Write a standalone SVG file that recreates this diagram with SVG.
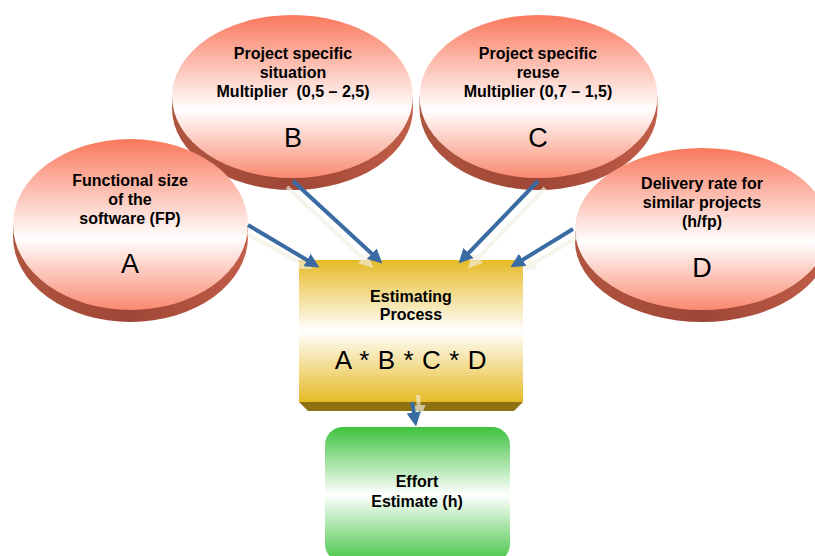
<svg xmlns="http://www.w3.org/2000/svg" width="815" height="556" viewBox="0 0 815 556">
<defs>
<linearGradient id="face" x1="0" y1="0" x2="0" y2="1">
<stop offset="0" stop-color="#F9785C"/>
<stop offset="0.58" stop-color="#FFFFFF"/>
<stop offset="1" stop-color="#F98A70"/>
</linearGradient>
<linearGradient id="rim" x1="0" y1="0" x2="1" y2="0">
<stop offset="0" stop-color="#B0553F"/>
<stop offset="0.5" stop-color="#9E4636"/>
<stop offset="1" stop-color="#C25E48"/>
</linearGradient>
<linearGradient id="gold" x1="0" y1="0" x2="0" y2="1">
<stop offset="0" stop-color="#E6BA26"/>
<stop offset="0.5" stop-color="#FFFFFF"/>
<stop offset="1" stop-color="#E6BA26"/>
</linearGradient>
<linearGradient id="green" x1="0" y1="0" x2="0" y2="1">
<stop offset="0" stop-color="#3EC23E"/>
<stop offset="0.5" stop-color="#FFFFFF"/>
<stop offset="1" stop-color="#46C646"/>
</linearGradient>
<marker id="ah" viewBox="0 0 10 10" refX="4" refY="5" markerWidth="3.6" markerHeight="3.6" orient="auto">
<path d="M0,0 L10,5 L0,10 Z" fill="#3A6BA3"/>
</marker>
<marker id="ahf" viewBox="0 0 10 10" refX="4" refY="5" markerWidth="3.6" markerHeight="3.6" orient="auto">
<path d="M0,0 L10,5 L0,10 Z" fill="#F2F0E2"/>
</marker>
</defs>
<style>
.face{fill:url(#face)}
.rim{fill:url(#rim)}
.t{font-family:"Liberation Sans",Arial,sans-serif;font-weight:bold;font-size:16px;fill:#000;text-anchor:middle}
.L{font-family:"Liberation Sans",Arial,sans-serif;font-size:27px;fill:#000;text-anchor:middle}
.c{stroke:#3A6BA3;stroke-width:4;fill:none;marker-end:url(#ah)}
.f{stroke:#F2F0E2;stroke-width:4;fill:none;opacity:0.65;marker-end:url(#ahf)}
</style>

<g id="nodeB">
<path class="rim" d="M172,96.5 L172,108.5 A120.5,81.5 0 0 0 413,108.5 L413,96.5 Z"/>
<ellipse class="face" cx="292.5" cy="96.5" rx="120.5" ry="81.5"/>
<text class="t" x="293" y="59">Project specific</text>
<text class="t" x="293" y="78">situation</text>
<text class="t" x="293" y="97" xml:space="preserve">Multiplier  (0,5 – 2,5)</text>
<text class="L" x="293" y="147">B</text>
</g>

<g id="nodeC">
<path class="rim" d="M419.5,96.5 L419.5,108.5 A119,81.5 0 0 0 657.5,108.5 L657.5,96.5 Z"/>
<ellipse class="face" cx="538.5" cy="96.5" rx="119" ry="81.5"/>
<text class="t" x="538" y="59">Project specific</text>
<text class="t" x="538" y="78">reuse</text>
<text class="t" x="538" y="97">Multiplier (0,7 – 1,5)</text>
<text class="L" x="538" y="147">C</text>
</g>

<g id="nodeA">
<path class="rim" d="M13,224.5 L13,236.5 A117.5,85.5 0 0 0 248,236.5 L248,224.5 Z"/>
<ellipse class="face" cx="130.5" cy="224.5" rx="117.5" ry="85.5"/>
<text class="t" x="130" y="186">Functional size</text>
<text class="t" x="130" y="205">of the</text>
<text class="t" x="130" y="224">software (FP)</text>
<text class="L" x="130" y="273">A</text>
</g>

<g id="nodeD">
<path class="rim" d="M575,229 L575,241 A127,81 0 0 0 829,241 L829,229 Z"/>
<ellipse class="face" cx="702" cy="229" rx="127" ry="81"/>
<text class="t" x="702" y="189">Delivery rate for</text>
<text class="t" x="702" y="208">similar projects</text>
<text class="t" x="702" y="227">(h/fp)</text>
<text class="L" x="702" y="277">D</text>
</g>

<g id="process">
<path d="M299,402 L523,402 L514,411 L308,411 Z" fill="#8E7212"/>
<rect x="299" y="260" width="224" height="142" fill="url(#gold)"/>
<text class="t" x="411" y="302">Estimating</text>
<text class="t" x="411" y="320">Process</text>
<text class="L" x="411" y="369" style="font-size:26px;letter-spacing:0.6px">A * B * C * D</text>
</g>

<g id="effort">
<rect x="325" y="427" width="185" height="135" rx="18" ry="18" fill="url(#green)"/>
<text class="t" x="417" y="487">Effort</text>
<text class="t" x="417" y="507">Estimate (h)</text>
</g>

<g id="connectors">
<line class="f" x1="243" y1="232" x2="305" y2="265"/>
<line class="f" x1="287" y1="187" x2="367" y2="262"/>
<line class="f" x1="545" y1="188" x2="474" y2="262"/>
<line class="f" x1="578" y1="237" x2="529" y2="266"/>
<line class="f" x1="418" y1="395" x2="419" y2="411"/>
<line class="c" x1="248" y1="225" x2="312" y2="263"/>
<line class="c" x1="293" y1="181" x2="376" y2="257.6"/>
<line class="c" x1="538" y1="181" x2="464.6" y2="257.2"/>
<line class="c" x1="573" y1="229" x2="517.8" y2="262.8"/>
<line class="c" x1="412" y1="402" x2="414.7" y2="418"/>
</g>
</svg>
